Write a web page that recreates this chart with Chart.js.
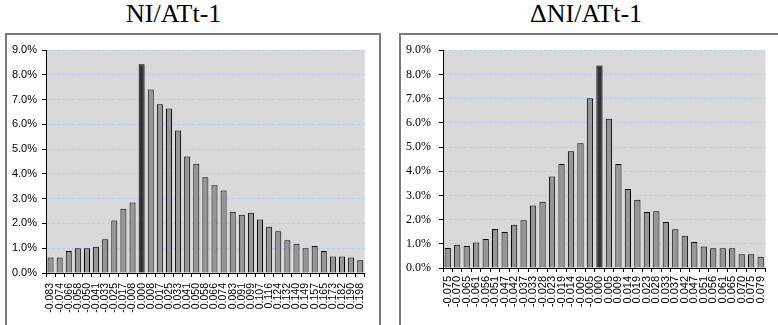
<!DOCTYPE html>
<html>
<head>
<meta charset="utf-8">
<script src="https://cdn.jsdelivr.net/npm/chart.js@4.4.0/dist/chart.umd.min.js"></script>
<style>
  body { margin: 0; background: #fff; width: 778px; height: 325px; overflow: hidden; position: relative; }
  .title { position: absolute; top: 1px; font-family: "Liberation Serif", "Times New Roman", Times, "DejaVu Serif", serif; font-size: 26px; line-height: 26px; color: #000; white-space: nowrap; }
  .box { position: absolute; top: 33px; height: 300px; box-sizing: border-box; border: 2px solid #7a7a7a; border-bottom: none; }
  .box canvas { position: absolute; left: 0; top: 0; }
</style>
</head>
<body>
<div class="title" style="left:126px">NI/ATt-1</div>
<div class="title" style="left:530px">&Delta;NI/ATt-1</div>
<div class="box" style="left:5px; width:376px"><canvas id="levelChart" width="372" height="290"></canvas></div>
<div class="box" style="left:399px; width:400px"><canvas id="changeChart" width="377" height="290"></canvas></div>
<script>
// NI/ATt-1 histogram (bin midpoints, % of observations)
const levelBins = ['-0.083', '-0.074', '-0.066', '-0.058', '-0.050', '-0.041', '-0.033', '-0.025', '-0.017', '-0.008',
  '0.000', '0.008', '0.017', '0.025', '0.033', '0.041', '0.050', '0.058', '0.066', '0.074', '0.083', '0.091',
  '0.099', '0.107', '0.116', '0.124', '0.132', '0.140', '0.149', '0.157', '0.165', '0.173', '0.182', '0.190', '0.198'];
const levelPct = [0.63, 0.63, 0.89, 1.00, 1.00, 1.06, 1.36, 2.12, 2.59, 2.85,
  8.42, 7.41, 6.81, 6.64, 5.75, 4.70, 4.41, 3.86, 3.54, 3.33, 2.47, 2.35,
  2.43, 2.16, 1.87, 1.69, 1.32, 1.18, 1.00, 1.09, 0.89, 0.67, 0.67, 0.63, 0.51];

// ΔNI/ATt-1 histogram
const changeBins = ['-0.075', '-0.070', '-0.065', '-0.061', '-0.056', '-0.051', '-0.047', '-0.042', '-0.037', '-0.033',
  '-0.028', '-0.023', '-0.019', '-0.014', '-0.009', '-0.005', '0.000', '0.005', '0.009', '0.014', '0.019', '0.023',
  '0.028', '0.033', '0.037', '0.042', '0.047', '0.051', '0.056', '0.061', '0.065', '0.070', '0.075', '0.079'];
const changePct = [0.83, 0.96, 0.91, 1.05, 1.20, 1.61, 1.49, 1.79, 1.97, 2.58,
  2.74, 3.78, 4.30, 4.82, 5.16, 7.01, 8.37, 6.17, 4.30, 3.26, 2.82, 2.31,
  2.35, 1.90, 1.60, 1.33, 1.07, 0.89, 0.82, 0.82, 0.82, 0.57, 0.57, 0.47];

const yTicks = [0, 1, 2, 3, 4, 5, 6, 7, 8, 9];

const SANS = '"Liberation Sans", Arial, Helvetica, sans-serif';
const SERIF = '"Liberation Serif", "Times New Roman", Times, serif';

// gray plot area behind the bars
const plotBackground = {
  id: 'plotBackground',
  beforeDraw(chart) {
    const a = chart.chartArea, ctx = chart.ctx;
    ctx.save();
    ctx.fillStyle = '#d9d9d9';
    ctx.fillRect(a.left, a.top, a.right - a.left, a.bottom - a.top);
    ctx.restore();
  }
};

function makeHistogram(id, bins, values, cfg) {
  const ctx = document.getElementById(id).getContext('2d');
  return new Chart(ctx, {
    type: 'bar',
    data: {
      labels: bins,
      datasets: [{
        data: values,
        backgroundColor: bins.map(b => b === '0.000' ? '#333333' : '#969696'),
        borderColor: '#000',
        borderWidth: 1,
        barPercentage: 0.66,
        categoryPercentage: 1
      }]
    },
    options: {
      responsive: false,
      animation: false,
      devicePixelRatio: 1,
      layout: { padding: { top: cfg.top, right: cfg.right, left: 0, bottom: 0 } },
      plugins: { legend: { display: false }, tooltip: { enabled: false } },
      scales: {
        x: {
          grid: { offset: true, drawOnChartArea: false, tickColor: '#000', tickLength: 4 },
          border: { color: '#000', width: 1 },
          ticks: {
            autoSkip: false, minRotation: 90, maxRotation: 90, padding: cfg.xPad, color: '#000',
            font: { family: SANS, size: cfg.xFont }
          },
          afterFit: s => { s.height = cfg.xHeight; }
        },
        y: {
          min: 0, max: 9,
          afterBuildTicks: s => { s.ticks = yTicks.map(v => ({ value: v })); },
          grid: {
            color: c => c.tick && c.tick.value === 0 ? 'rgba(0,0,0,0)' : '#bccdef',
            tickColor: '#000', tickLength: 4
          },
          border: { color: '#000', width: 1, dash: [3, 2] },
          ticks: {
            padding: cfg.yPad, color: '#000',
            font: { family: cfg.yFamily, size: cfg.yFont },
            callback: v => v.toFixed(1) + '%'
          },
          afterFit: s => { s.width = cfg.yWidth; }
        }
      }
    },
    plugins: [plotBackground]
  });
}

makeHistogram('levelChart', levelBins, levelPct, {
  top: 15, right: 12, xHeight: 52, yWidth: 39, xPad: 6, yPad: 5,
  xFont: 10.5, yFont: 11, yFamily: SANS
});

makeHistogram('changeChart', changeBins, changePct, {
  top: 13, right: 10, xHeight: 57, yWidth: 42, xPad: 4, yPad: 8,
  xFont: 11, yFont: 12, yFamily: SERIF
});
</script>
</body>
</html>
